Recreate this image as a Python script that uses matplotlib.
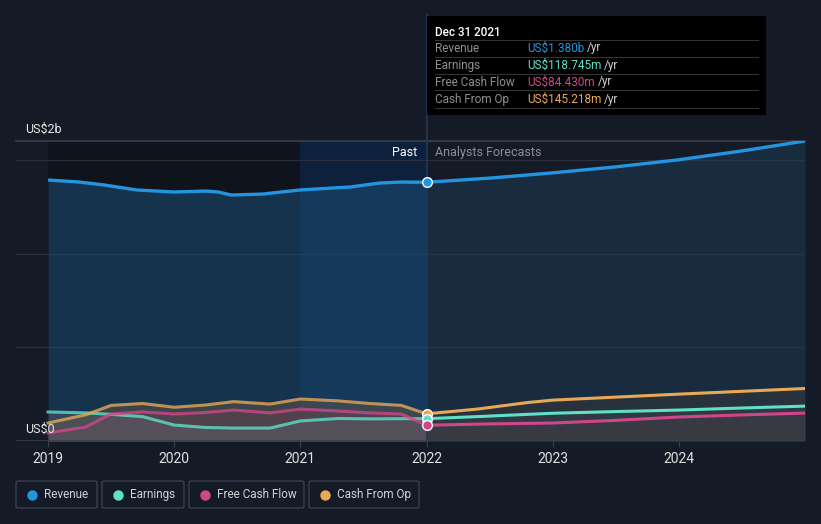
import matplotlib.pyplot as plt
from matplotlib.patches import Rectangle, FancyBboxPatch
from matplotlib.lines import Line2D

plt.rcParams['font.family'] = ['Roboto', 'DejaVu Sans']

# --- data (US$ billions) ---
past_x = [2019.0, 2019.25, 2019.45, 2019.7, 2020.0, 2020.25, 2020.35, 2020.45, 2020.7, 2021.0, 2021.4, 2021.63, 2021.8, 2022.0]
rev_past = [1.392, 1.381, 1.365, 1.339, 1.328, 1.333, 1.328, 1.312, 1.317, 1.339, 1.355, 1.376, 1.381, 1.380]

fc_x = [2022.0, 2022.5, 2023.0, 2023.5, 2024.0, 2024.5, 2025.0]
rev_fc = [1.380, 1.402, 1.430, 1.462, 1.500, 1.547, 1.600]

line_x = [2019.0, 2019.3, 2019.5, 2019.75, 2020.0, 2020.25, 2020.47, 2020.76, 2021.0, 2021.3, 2021.55, 2021.8, 2022.0]
earn_past = [0.155, 0.150, 0.142, 0.130, 0.085, 0.072, 0.069, 0.069, 0.107, 0.120, 0.118, 0.119, 0.119]
fcf_past = [0.043, 0.075, 0.144, 0.155, 0.144, 0.152, 0.165, 0.150, 0.170, 0.160, 0.150, 0.144, 0.084]
cfo_past = [0.096, 0.140, 0.190, 0.200, 0.180, 0.192, 0.210, 0.197, 0.224, 0.214, 0.200, 0.190, 0.145]

fc2_x = [2022.0, 2022.4, 2022.8, 2023.0, 2023.5, 2024.0, 2024.5, 2025.0]
earn_fc = [0.119, 0.130, 0.142, 0.148, 0.157, 0.165, 0.176, 0.186]
fcf_fc = [0.084, 0.090, 0.094, 0.096, 0.110, 0.128, 0.139, 0.149]
cfo_fc = [0.145, 0.170, 0.205, 0.218, 0.234, 0.250, 0.265, 0.280]

xticks = [2019, 2020, 2021, 2022, 2023, 2024]

BG = '#151b26'
C_REV = '#2394df'
C_EARN = '#5fe0c8'
C_FCF = '#d0468a'
C_CFO = '#e8a855'

fig = plt.figure(figsize=(8.21, 5.24), dpi=100, facecolor=BG)
ax = fig.add_axes([16 / 821, 1 - 441 / 524, 789 / 821, 300 / 524])
ax.set_facecolor(BG)
ax.set_xlim(2018.746, 2025.0)
ax.set_ylim(0, 1.6)

# past shading
ax.axvspan(2019.0, 2021.0, color='#0b0e14', alpha=0.6, lw=0, zorder=0)
ax.axvspan(2021.0, 2022.0, color='#0a2447', alpha=0.7, lw=0, zorder=0)

# gridlines
for gy in [0.5, 1.0, 1.5]:
    ax.axhline(gy, color='#2a303b', lw=0.9, zorder=1)
ax.axhline(1.6, color='#3a404b', lw=1.2, zorder=1, clip_on=False)

# revenue fill + line
ax.fill_between(past_x, rev_past, 0, color='#1c4a70', alpha=0.6, lw=0, zorder=2)
ax.fill_between(fc_x, rev_fc, 0, color='#1d3a55', alpha=0.55, lw=0, zorder=2)
ax.plot(past_x, rev_past, color=C_REV, lw=2.4, zorder=5, solid_capstyle='butt')
ax.plot(fc_x, rev_fc, color=C_REV, lw=2.4, zorder=5, solid_capstyle='butt')

# small series fills
for xs, ys, c in [(line_x, cfo_past, '#6b5a45'), (fc2_x, cfo_fc, '#3a3c3c'),
                  (line_x, fcf_past, '#6a4050'), (fc2_x, fcf_fc, '#3c3d44'),
                  (line_x, earn_past, '#5a6068'), (fc2_x, earn_fc, '#404148')]:
    ax.fill_between(xs, ys, 0, color=c, alpha=0.45, lw=0, zorder=3)

for xs, ys, c in [(line_x, earn_past, C_EARN), (fc2_x, earn_fc, C_EARN),
                  (line_x, fcf_past, C_FCF), (fc2_x, fcf_fc, C_FCF),
                  (line_x, cfo_past, C_CFO), (fc2_x, cfo_fc, C_CFO)]:
    past = xs[0] < 2021.9
    ax.plot(xs, ys, color=c, lw=2.2, zorder=6, alpha=0.8 if past else 1.0)

# markers at 2022
for v, c in [(rev_past[-1], C_REV), (cfo_past[-1], C_CFO), (earn_past[-1], C_EARN), (fcf_past[-1], C_FCF)]:
    ax.plot([2022.0], [v], 'o', ms=7, color=c, mec='white', mew=1.0, zorder=8)

# vertical divider
ax.plot([2022.0, 2022.0], [0, 2.28], color='#22395a', lw=1.2, zorder=4, clip_on=False)

# axes styling
for s in ax.spines.values():
    s.set_visible(False)
ax.axhline(0, color='#3a404b', lw=1.2, zorder=7)
ax.set_yticks([])
ax.set_xticks(xticks)
ax.set_xticklabels([str(t) for t in xticks], color='#e0e0e0', fontsize=10)
ax.tick_params(axis='x', length=4, color='#3a404b', pad=4)

ax.text(2022.0 - 0.07, 1.54, 'Past', color='#ffffff', fontsize=9, ha='right', va='center', zorder=9)
ax.text(2022.0 + 0.07, 1.54, 'Analysts Forecasts', color='#8a8f98', fontsize=9, ha='left', va='center', zorder=9)

fig.text(25 / 821, 1 - 129 / 524, 'US$2b', color='#e8e8e8', fontsize=9, ha='left', va='center')
fig.text(25 / 821, 1 - 429 / 524, 'US$0', color='#e8e8e8', fontsize=9, ha='left', va='center', zorder=10)

# tooltip
W, H = 821.0, 524.0
fig.patches.append(Rectangle((427 / W, 1 - 115 / H), 339 / W, 99 / H, transform=fig.transFigure,
                             facecolor='#000000', edgecolor='none', zorder=20))
fig.text(435 / W, 1 - 32 / H, 'Dec 31 2021', color='#ffffff', fontsize=8.5, fontweight='medium',
         ha='left', va='center', zorder=21)
rows = [('Revenue', 'US$1.380b', C_REV), ('Earnings', 'US$118.745m', C_EARN),
        ('Free Cash Flow', 'US$84.430m', C_FCF), ('Cash From Op', 'US$145.218m', C_CFO)]
for i, (lab, val, c) in enumerate(rows):
    yy = 48 + i * 17
    fig.add_artist(Line2D([435 / W, 758 / W], [1 - (yy - 8.5) / H] * 2, color='#333333', lw=0.8, zorder=21))
    fig.text(435 / W, 1 - yy / H, lab, color='#8f8f8f', fontsize=8.5, ha='left', va='center', zorder=21)
    t = fig.text(527 / W, 1 - yy / H, val, color=c, fontsize=8.5, ha='left', va='center', zorder=21)
    fig.canvas.draw()
    bb = t.get_window_extent()
    fig.text(bb.x1 / W + 3 / W, 1 - yy / H, '/yr', color='#cfcfcf', fontsize=8.5, ha='left', va='center', zorder=21)
fig.add_artist(Line2D([435 / W, 758 / W], [1 - 108 / H] * 2, color='#333333', lw=0.8, zorder=21))

# legend boxes
legend = [('Revenue', C_REV, 16, 97), ('Earnings', C_EARN, 102, 184),
          ('Free Cash Flow', C_FCF, 189, 304), ('Cash From Op', C_CFO, 309, 419)]
for lab, c, x0, x1 in legend:
    fig.patches.append(FancyBboxPatch((x0 / W, 1 - 508 / H), (x1 - x0) / W, 27 / H,
                                      boxstyle='round,pad=0,rounding_size=0.003', transform=fig.transFigure,
                                      facecolor='none', edgecolor='#3a404b', lw=1.0))
    fig.add_artist(Line2D([(x0 + 16) / W], [1 - 494.5 / H], marker='o', ms=6.5, color=c, lw=0))
    fig.text((x0 + 28) / W, 1 - 494.5 / H, lab, color='#cfd2d6', fontsize=8.5, ha='left', va='center')

fig.savefig('out.png', dpi=100, facecolor=BG)
